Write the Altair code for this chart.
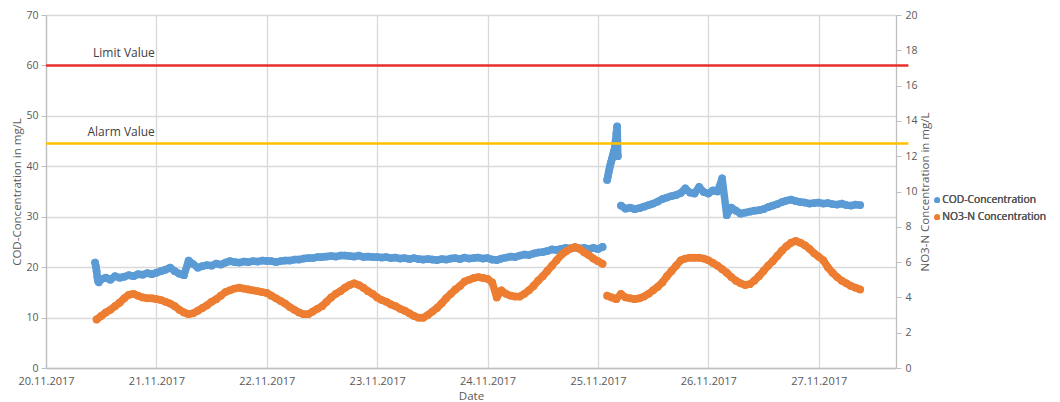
import altair as alt
import pandas as pd

# ---------------- data ----------------
# COD (left axis, mg/L)
COD_START = "2017-11-20 10:40"          # 10-minute samples
COD_START_VALUES = [20.9, 20.2, 19.2, 18.0, 17.2, 17.0]
COD_A_START = "2017-11-20 12:00"        # hourly samples
COD_A_VALUES = [
    17.6, 17.9, 17.5, 18.2, 17.9, 18.1, 18.4, 18.2, 18.6, 18.5,
    18.8, 18.6, 18.9, 19.2, 19.5, 19.9, 19.2, 18.7, 18.4, 21.3,
    20.6, 19.9, 20.2, 20.4, 20.3, 20.7, 20.5, 20.9, 21.2, 21.0,
    20.9, 21.1, 21.0, 21.2, 21.1, 21.3, 21.2, 21.2, 21.0, 21.2,
    21.3, 21.3, 21.5, 21.5, 21.7, 21.8, 21.8, 22.0, 22.0, 22.1,
    22.2, 22.1, 22.3, 22.3, 22.2, 22.1, 22.3, 22.0, 22.1, 22.0,
    22.0, 21.9, 22.0, 21.8, 21.9, 21.7, 21.8, 21.6, 21.8, 21.6,
    21.5, 21.6, 21.5, 21.4, 21.6, 21.5, 21.7, 21.8, 21.6, 21.9,
    21.7, 21.8, 21.9, 21.7, 21.8, 21.5, 21.4, 21.7, 21.9, 22.1,
    22.0, 22.3, 22.5, 22.4, 22.7, 22.9, 23.0, 23.2, 23.5, 23.4,
    23.6, 23.8, 23.7, 23.9, 23.7, 23.8, 23.6, 23.8, 23.6, 24.0,
]
COD_SPIKE_START = "2017-11-25 02:00"    # 10-minute samples
COD_SPIKE_VALUES = [37.3, 38.0, 38.8, 39.5, 40.2, 40.8, 41.3, 41.9, 42.4, 43.0,
                    43.8, 45.0, 46.5, 47.9, 42.0]
COD_B_START = "2017-11-25 05:00"        # hourly samples
COD_B_VALUES = [
    32.2, 31.6, 31.8, 31.5, 31.7, 32.0, 32.3, 32.6, 33.0, 33.5,
    33.8, 34.1, 34.3, 34.7, 35.6, 34.8, 34.6, 35.9, 34.9, 34.6,
    35.2, 35.0, 37.6, 30.3, 31.8, 31.2, 30.6, 30.8, 31.0, 31.2,
    31.3, 31.5, 31.9, 32.2, 32.5, 32.9, 33.2, 33.4, 33.1, 32.9,
    32.8, 32.6, 32.7, 32.8, 32.6, 32.7, 32.5, 32.4, 32.6, 32.3,
    32.2, 32.4, 32.3,
]

# NO3-N (right axis, mg/L)
NO3_A_START = "2017-11-20 11:00"        # hourly samples
NO3_A_VALUES = [
    2.75, 2.95, 3.15, 3.3, 3.5, 3.7, 3.95, 4.15, 4.2, 4.1,
    4.0, 3.95, 3.95, 3.9, 3.85, 3.75, 3.65, 3.5, 3.3, 3.15,
    3.05, 3.1, 3.25, 3.4, 3.55, 3.75, 3.9, 4.1, 4.3, 4.4,
    4.5, 4.55, 4.5, 4.45, 4.4, 4.35, 4.3, 4.25, 4.1, 3.95,
    3.8, 3.65, 3.45, 3.3, 3.15, 3.05, 3.05, 3.2, 3.35, 3.5,
    3.75, 4.0, 4.2, 4.35, 4.55, 4.7, 4.8, 4.7, 4.55, 4.35,
    4.2, 4.0, 3.85, 3.75, 3.6, 3.5, 3.35, 3.25, 3.1, 2.95,
    2.85, 2.85, 3.0, 3.2, 3.4, 3.65, 3.95, 4.2, 4.45, 4.65,
    4.9, 5.0, 5.1, 5.15, 5.1, 5.05, 4.85, 4.0, 4.4, 4.2,
    4.1, 4.05, 4.05, 4.2, 4.4, 4.65, 4.95, 5.2, 5.5, 5.8,
    6.1, 6.4, 6.6, 6.75, 6.85, 6.75, 6.55, 6.4, 6.2, 6.05,
    5.9,
]
NO3_B_START = "2017-11-25 02:00"        # hourly samples
NO3_B_VALUES = [
    4.1, 4.0, 3.9, 4.2, 4.0, 3.95, 3.9, 3.95, 4.05, 4.2,
    4.4, 4.6, 4.85, 5.2, 5.5, 5.8, 6.1, 6.2, 6.25, 6.25,
    6.25, 6.2, 6.1, 5.95, 5.8, 5.6, 5.4, 5.15, 4.95, 4.8,
    4.7, 4.75, 4.95, 5.2, 5.5, 5.8, 6.05, 6.35, 6.65, 6.9,
    7.1, 7.2, 7.1, 6.95, 6.75, 6.5, 6.3, 6.1, 5.7, 5.4,
    5.15, 4.95, 4.8, 4.65, 4.55, 4.45,
]

SERIES = ["COD-Concentration", "NO3-N Concentration"]
COLORS = ["#5B9BD5", "#ED7D31"]

REF_LABELS = ["Limit Value", "Alarm Value"]
REF_VALUES = [60, 44.5]
REF_COLORS = ["#E8302B", "#FFC000"]

DAY_TICKS = list(range(20, 28))


def seg(start, freq, values, series, group):
    t = pd.date_range(start, periods=len(values), freq=freq)
    return pd.DataFrame({"time": t.strftime("%Y-%m-%dT%H:%M:%S"), "value": values,
                         "series": series, "group": group})


cod = pd.concat([
    seg(COD_START, "10min", COD_START_VALUES, SERIES[0], "a"),
    seg(COD_A_START, "1h", COD_A_VALUES, SERIES[0], "a"),
    seg(COD_SPIKE_START, "10min", COD_SPIKE_VALUES, SERIES[0], "b"),
    seg(COD_B_START, "1h", COD_B_VALUES, SERIES[0], "c"),
])
no3 = pd.concat([
    seg(NO3_A_START, "1h", NO3_A_VALUES, SERIES[1], "a"),
    seg(NO3_B_START, "1h", NO3_B_VALUES, SERIES[1], "b"),
])

refs = pd.DataFrame({
    "label": REF_LABELS,
    "value": REF_VALUES,
    "start": ["2017-11-20T00:00:00"] * 2,
    "end": ["2017-11-27T19:30:00"] * 2,
    "text_at": ["2017-11-20T23:40:00"] * 2,
})

FONT = "Open Sans"
GREY = "#595959"

x_domain = [alt.DateTime(year=2017, month=11, date=20),
            alt.DateTime(year=2017, month=11, date=27, hours=16, minutes=48)]
x_scale = alt.Scale(domain=x_domain)
x_axis = alt.Axis(
    title="Date", format="%d.%m.%Y",
    values=[alt.DateTime(year=2017, month=11, date=d) for d in DAY_TICKS],
    grid=True, gridColor="#d9d9d9", gridWidth=1.3,
    domainColor="#bfbfbf", domainWidth=1.3, ticks=False,
    labelFont=FONT, labelFontSize=11, labelColor=GREY, labelPadding=7,
    titleFont=FONT, titleFontSize=11.5, titleFontWeight="normal", titleColor=GREY,
    titlePadding=4, labelFlush=False,
)

left_scale = alt.Scale(domain=[0, 70], nice=False)
left_axis = alt.Axis(
    title="COD-Concentration in mg/L", values=list(range(0, 71, 10)),
    grid=True, gridColor="#d9d9d9", gridWidth=1.3,
    domainColor="#bfbfbf", domainWidth=1.3, tickColor="#bfbfbf", tickSize=5,
    labelFont=FONT, labelFontSize=10.5, labelColor=GREY, labelPadding=3,
    titleFont=FONT, titleFontSize=11.5, titleFontWeight="normal", titleColor=GREY,
    titlePadding=3,
)
right_scale = alt.Scale(domain=[0, 20], nice=False)
right_axis = alt.Axis(
    title="NO3-N Concentration in mg/L", orient="right", values=list(range(0, 21, 2)),
    grid=False, domainColor="#bfbfbf", domainWidth=1.3, tickColor="#bfbfbf", tickSize=5,
    labelFont=FONT, labelFontSize=10.5, labelColor=GREY, labelPadding=4,
    titleFont=FONT, titleFontSize=11.5, titleFontWeight="normal", titleColor=GREY,
    titlePadding=2, titleAngle=270, titleBaseline="top",
)

color = alt.Color(
    "series:N",
    scale=alt.Scale(domain=SERIES, range=COLORS),
    legend=alt.Legend(
        title=None, orient="none", legendX=886, legendY=180,
        symbolType="circle", symbolSize=34, symbolStrokeWidth=0,
        labelFont=FONT, labelFontSize=10.3, labelColor=GREY,
        rowPadding=6, labelOffset=0, labelLimit=200,
    ),
)

X_COD = alt.X("time:T", scale=x_scale, axis=x_axis)
Y_COD = alt.Y("value:Q", scale=left_scale, axis=left_axis)

cod_band = alt.Chart(cod).mark_line(strokeWidth=7.5, strokeCap="round", strokeJoin="round").encode(
    x=X_COD, y=Y_COD, color=color, detail="group:N",
)
cod_pts = alt.Chart(cod).mark_circle(size=60, opacity=1).encode(
    x=X_COD, y=Y_COD, color=color,
)

ref_lines = alt.Chart(refs).mark_rule(strokeWidth=2.5).encode(
    x=alt.X("start:T", scale=x_scale, axis=x_axis),
    x2="end:T",
    y=alt.Y("value:Q", scale=left_scale, axis=left_axis),
    color=alt.Color("label:N", scale=alt.Scale(domain=REF_LABELS, range=REF_COLORS), legend=None),
)

ref_text = alt.Chart(refs).mark_text(
    align="right", baseline="bottom", dy=-5, font=FONT, fontSize=12, color="#404040"
).encode(
    x=alt.X("text_at:T", scale=x_scale, axis=x_axis),
    y=alt.Y("value:Q", scale=left_scale, axis=left_axis),
    text="label:N",
)

left = alt.layer(cod_band, cod_pts, ref_lines, ref_text).resolve_scale(color="independent")

X_NO3 = alt.X("time:T", scale=x_scale, axis=x_axis)
Y_NO3 = alt.Y("value:Q", scale=right_scale, axis=right_axis)
no3_band = alt.Chart(no3).mark_line(strokeWidth=7.5, strokeCap="round", strokeJoin="round").encode(
    x=X_NO3, y=Y_NO3, color=color, detail="group:N",
)
no3_pts = alt.Chart(no3).mark_circle(size=60, opacity=1).encode(
    x=X_NO3, y=Y_NO3, color=color,
)
right = alt.layer(no3_band, no3_pts)

chart = alt.layer(left, right).resolve_scale(y="independent").properties(
    width=850, height=353,
    autosize=alt.AutoSizeParams(type="none"),
    padding={"left": 38, "top": 7, "right": 156, "bottom": 34},
).configure_view(stroke=None).configure(background="white")

chart.save("out.html", embed_options={"renderer": "svg", "actions": False})
